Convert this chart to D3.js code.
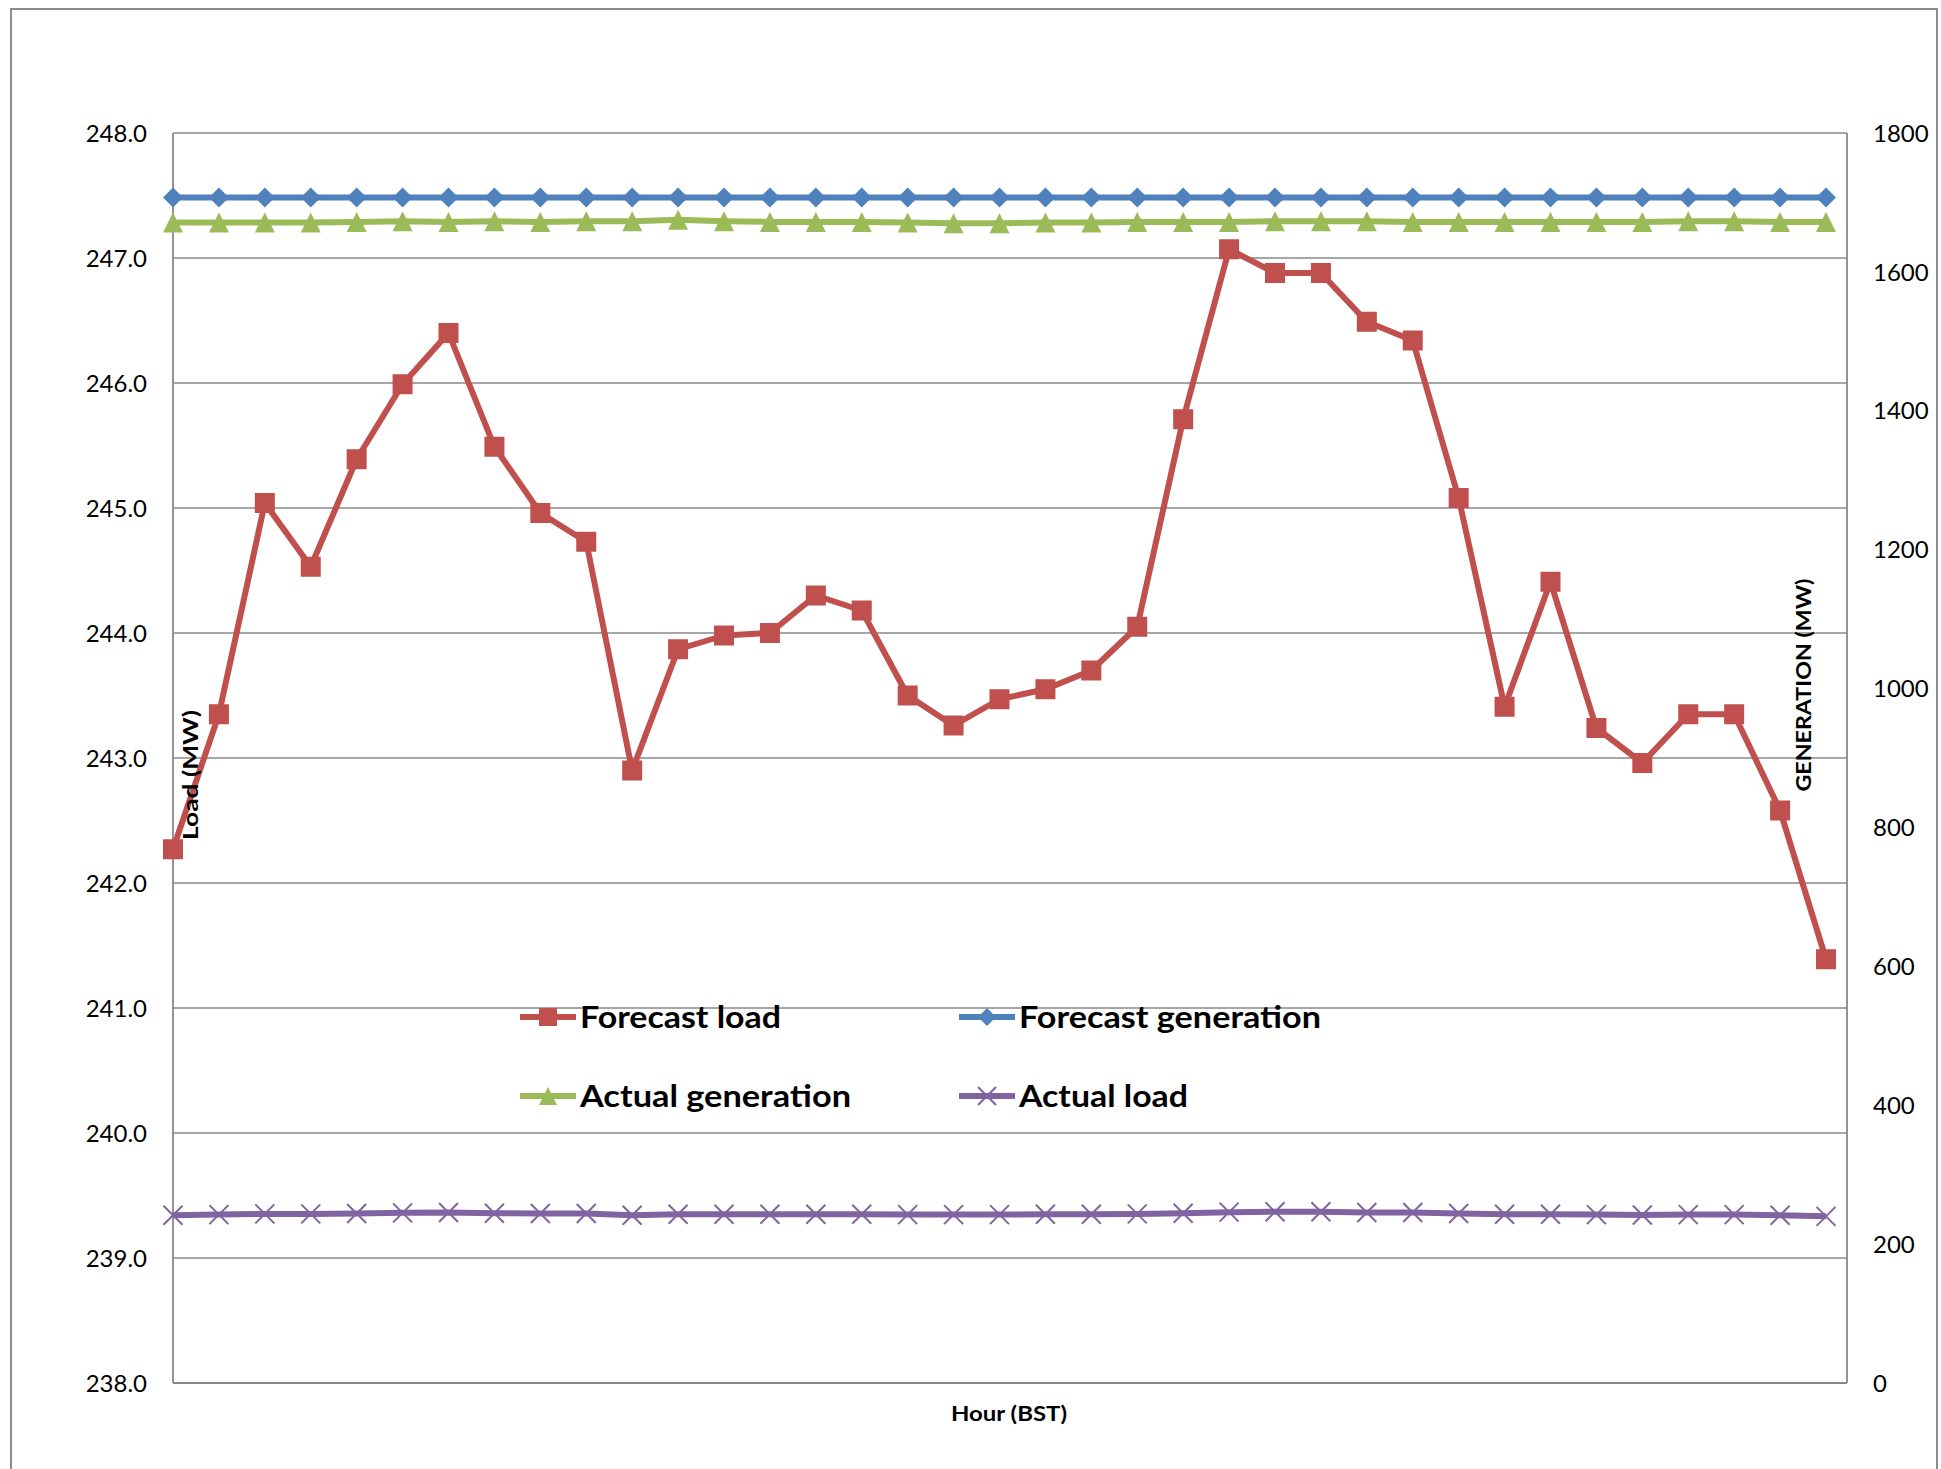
<!DOCTYPE html>
<html>
<head>
<meta charset="utf-8">
<script src="https://cdn.jsdelivr.net/npm/d3@7/dist/d3.min.js"></script>
<style>
  body { margin: 0; background: #fff; }
  text { font-family: "Lato", "Liberation Sans", sans-serif; fill: #000; }
</style>
</head>
<body>
<script>
// half-hour slots along the x axis (no tick labels shown)
var slots = [1,2,3,4,5,6,7,8,9,10,11,12,13,14,15,16,17,18,19,20,21,22,23,24,25,26,27,28,29,30,31,32,33,34,35,36,37];

// left axis (MW)
var forecastLoad = [242.27,243.35,245.04,244.53,245.39,245.99,246.40,245.49,244.96,244.73,242.90,243.87,243.98,244.00,244.30,244.18,243.50,243.26,243.47,243.55,243.70,244.05,245.71,247.07,246.88,246.88,246.49,246.34,245.08,243.41,244.41,243.24,242.96,243.35,243.35,242.58,241.39];

// right axis (MW)
var forecastGen = [1707,1707,1707,1707,1707,1707,1707,1707,1707,1707,1707,1707,1707,1707,1707,1707,1707,1707,1707,1707,1707,1707,1707,1707,1707,1707,1707,1707,1707,1707,1707,1707,1707,1707,1707,1707,1707];
var actualGen = [1671,1671,1671,1671,1672,1673,1672,1673,1672,1673,1673,1675,1673,1672,1672,1672,1671,1670,1670,1671,1671,1672,1672,1672,1673,1673,1673,1672,1672,1672,1672,1672,1672,1673,1673,1672,1672];
var actualLoad = [241.5,242.5,243.5,243.5,244,245,245.5,244.5,244,244,241.5,243,243,243,243,243,242.5,242.5,242.5,243,243,243.5,244.5,246,246.5,246.5,245.5,245.5,244,243,243,242.5,242,242.5,242.5,241.5,240];

var loadTicks = [238,239,240,241,242,243,244,245,246,247,248];
var genTicks = [0,200,400,600,800,1000,1200,1400,1600,1800];

var W = 1941, H = 1469;
var pL = 173, pR = 1847, pT = 133, pB = 1383;

var svg = d3.select('body').append('svg').attr('width', W).attr('height', H);
svg.append('rect').attr('width', W).attr('height', H).attr('fill', '#fff');

// chart frame
svg.append('rect').attr('x', 11).attr('y', 9).attr('width', 1926).attr('height', 1480)
    .attr('fill', 'none').attr('stroke', '#8c8c8c').attr('stroke-width', 2);

var x = d3.scalePoint().domain(slots).range([pL, 1826]);
var yL = d3.scaleLinear().domain([238, 248]).range([pB, pT]);
var yR = d3.scaleLinear().domain([0, 1800]).range([pB, pT]);

var grid = svg.append('g');
grid.selectAll('line').data(loadTicks).enter().append('line')
    .attr('x1', pL).attr('x2', pR)
    .attr('y1', function(d) { return yL(d); }).attr('y2', function(d) { return yL(d); })
    .attr('stroke', '#888').attr('stroke-width', 1.6);

svg.append('line').attr('x1', pL).attr('x2', pL).attr('y1', pT).attr('y2', pB)
    .attr('stroke', '#888').attr('stroke-width', 1.8);
svg.append('line').attr('x1', pR).attr('x2', pR).attr('y1', pT).attr('y2', pB)
    .attr('stroke', '#888').attr('stroke-width', 1.8);
svg.append('line').attr('x1', pL).attr('x2', pR).attr('y1', pB).attr('y2', pB)
    .attr('stroke', '#888').attr('stroke-width', 2.2);

// tick labels
svg.append('g').selectAll('text').data(loadTicks).enter().append('text')
    .attr('x', 147).attr('y', function(d) { return yL(d); }).attr('dy', '0.36em')
    .attr('text-anchor', 'end').attr('font-size', 24)
    .text(function(d) { return d3.format('.1f')(d); });
svg.append('g').selectAll('text').data(genTicks).enter().append('text')
    .attr('x', 1873).attr('y', function(d) { return yR(d); }).attr('dy', '0.36em')
    .attr('text-anchor', 'start').attr('font-size', 24)
    .text(function(d) { return d; });

var series = [
  { name: 'Forecast load', values: forecastLoad, y: yL, color: '#C0504D', marker: 'square' },
  { name: 'Forecast generation', values: forecastGen, y: yR, color: '#4F81BD', marker: 'diamond' },
  { name: 'Actual generation', values: actualGen, y: yR, color: '#9BBB59', marker: 'triangle' },
  { name: 'Actual load', values: actualLoad, y: yR, color: '#8064A2', marker: 'x' }
];

function drawMarker(g, type, cx, cy, s, color) {
  if (type === 'square') {
    g.append('rect').attr('x', cx - s / 2).attr('y', cy - s / 2).attr('width', s).attr('height', s).attr('fill', color);
  } else if (type === 'diamond') {
    g.append('path').attr('d', 'M' + cx + ',' + (cy - s / 2) + 'L' + (cx + s / 2) + ',' + cy + 'L' + cx + ',' + (cy + s / 2) + 'L' + (cx - s / 2) + ',' + cy + 'Z').attr('fill', color);
  } else if (type === 'triangle') {
    g.append('path').attr('d', 'M' + cx + ',' + (cy - s / 2) + 'L' + (cx + s / 2) + ',' + (cy + s / 2) + 'L' + (cx - s / 2) + ',' + (cy + s / 2) + 'Z').attr('fill', color);
  } else {
    var h = s / 2;
    g.append('path').attr('d', 'M' + (cx - h) + ',' + (cy - h) + 'L' + (cx + h) + ',' + (cy + h) + 'M' + (cx + h) + ',' + (cy - h) + 'L' + (cx - h) + ',' + (cy + h))
        .attr('stroke', color).attr('stroke-width', 2).attr('fill', 'none');
  }
}

var plot = svg.append('g');
series.forEach(function(s) {
  var line = d3.line()
      .x(function(d, i) { return x(slots[i]); })
      .y(function(d) { return s.y(d); });
  var g = plot.append('g');
  g.append('path').datum(s.values).attr('d', line)
      .attr('fill', 'none').attr('stroke', s.color).attr('stroke-width', 6).attr('stroke-linejoin', 'round');
  s.values.forEach(function(v, i) {
    drawMarker(g, s.marker, x(slots[i]), s.y(v), s.marker === 'x' ? 19 : 20, s.color);
  });
});

// axis titles (drawn over the series, as in the original)
svg.append('text').attr('transform', 'translate(198,775) rotate(-90)')
    .attr('text-anchor', 'middle').attr('font-size', 21).attr('font-weight', 'bold')
    .attr('textLength', 130).attr('lengthAdjust', 'spacingAndGlyphs').text('Load (MW)');
svg.append('text').attr('transform', 'translate(1811,685) rotate(-90)')
    .attr('text-anchor', 'middle').attr('font-size', 21).attr('font-weight', 'bold')
    .attr('textLength', 213).attr('lengthAdjust', 'spacingAndGlyphs').text('GENERATION (MW)');
svg.append('text').attr('x', 1009).attr('y', 1421)
    .attr('text-anchor', 'middle').attr('font-size', 21).attr('font-weight', 'bold')
    .attr('textLength', 116).attr('lengthAdjust', 'spacingAndGlyphs').text('Hour (BST)');

// legend
var legendPos = [
  { lx: 520, ty: 1017 },
  { lx: 959, ty: 1017 },
  { lx: 520, ty: 1096 },
  { lx: 959, ty: 1096 }
];
var legendWidths = [201, 302, 271, 169];
var legend = svg.append('g');
series.forEach(function(s, i) {
  var p = legendPos[i];
  var g = legend.append('g');
  g.append('line').attr('x1', p.lx).attr('x2', p.lx + 56).attr('y1', p.ty).attr('y2', p.ty)
      .attr('stroke', s.color).attr('stroke-width', 6);
  drawMarker(g, s.marker, p.lx + 28, p.ty, 18, s.color);
  g.append('text').attr('x', p.lx + 60).attr('y', p.ty).attr('dy', '0.36em')
      .attr('font-size', 31).attr('font-weight', 'bold')
      .attr('textLength', legendWidths[i]).attr('lengthAdjust', 'spacingAndGlyphs')
      .text(s.name);
});
</script>
</body>
</html>
